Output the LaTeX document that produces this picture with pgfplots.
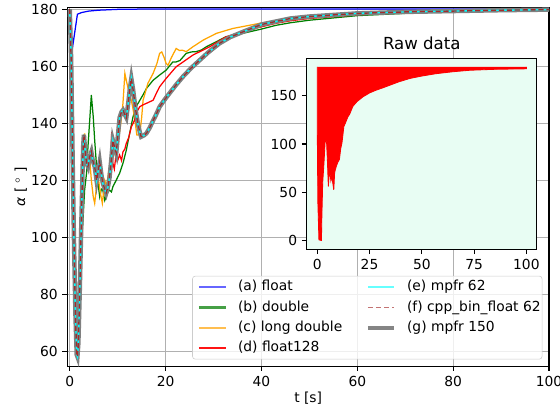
\documentclass[border=0pt]{standalone}
\usepackage{fontspec}
\setmainfont{DejaVu Sans}
\usepackage{pgfplots}
\usepackage{pgfplotstable}
\pgfplotsset{compat=1.18}

\definecolor{mplblue}{RGB}{0,0,255}
\definecolor{mplgreen}{RGB}{0,128,0}
\definecolor{mplorange}{RGB}{255,165,0}
\definecolor{mplred}{RGB}{255,0,0}
\definecolor{mplcyan}{RGB}{0,255,255}
\definecolor{mplbrown}{RGB}{165,42,42}
\definecolor{mplgray}{RGB}{128,128,128}
\definecolor{gridgray}{RGB}{176,176,176}
\definecolor{insetbg}{RGB}{232,253,243}
\definecolor{legframe}{RGB}{204,204,204}
% legend handle colours (lines blended with white)
\definecolor{lgblue}{RGB}{102,102,255}
\definecolor{lggreen}{RGB}{70,160,70}
\definecolor{lgorange}{RGB}{255,190,80}
\definecolor{lgred}{RGB}{255,20,20}
\definecolor{lgcyan}{RGB}{102,255,255}
\definecolor{lgbrown}{RGB}{195,115,115}
\definecolor{lggray}{RGB}{133,133,133}

\pgfplotstableread{
t a
0 180
0.3 162
0.6 128
0.9 97
1.2 72
1.45 59
1.6 58.3
1.8 63
2.1 82
2.4 104
2.65 122
2.8 132
2.95 136
3.2 131
3.5 126
3.8 124.8
4.1 128
4.5 130
4.8 127
5.2 124.8
5.6 120
5.9 123
6.25 126.5
6.6 122
6.9 119
7.3 117
7.6 115.6
8.0 118
8.3 121
8.7 128
9.0 134
9.3 132
9.7 129.6
10.0 135
10.4 142
10.8 144
11.1 144.6
11.5 143
11.8 142
12.2 147
12.5 151.6
12.85 155.7
13.2 152
13.5 148
13.9 143
14.2 140
14.6 137
14.9 135.3
15.5 135.8
16 136.5
16.7 138.5
17.4 141
18 143
18.75 145.8
19.8 148.3
20.8 150.5
22.2 153.5
23.6 156.3
25.3 159.3
27.1 162.1
29 165
31.25 168
33.5 170.2
36.1 172
40 174.6
46 176.7
50 177.4
60 178.5
70 179.0
80 179.3
90 179.6
100 179.8
}\mpfrdata

\newcommand{\lA}[1]{\hspace*{8.2bp}\makebox[91.9bp][l]{#1}}
\newcommand{\lB}[1]{\hspace*{7.6bp}\makebox[93.3bp][l]{#1}}

\begin{document}
\begin{tikzpicture}
\begin{axis}[
  name=main, at={(0,0)}, anchor=south west,
  scale only axis, width=346.8bp, height=258.3bp,
  xmin=-0.5, xmax=100, ymin=55, ymax=180.6,
  xtick={0,20,...,100}, ytick={60,80,...,180},
  tick align=outside, xtick pos=left, ytick pos=left,
  major tick length=3.5bp,
  tick style={black, line width=0.8bp},
  grid=major, grid style={gridgray, line width=0.8bp},
  axis line style={line width=0.8bp},
  /pgf/number format/assume math mode=true,
  ticklabel style={font=\fontsize{10}{12}\selectfont},
  xlabel={t [s]}, ylabel={\textit{α} [ $^{\circ}$ ]},
  label style={font=\fontsize{10}{12}\selectfont},
  xlabel style={at={(axis description cs:0.5,-0.089)}, anchor=center},
  ylabel style={at={(axis description cs:-0.0966,0.5)}, anchor=center},
  legend columns=2,
  legend cell align=left,
  legend image code/.code={\draw[#1] (0bp,0bp) -- (19.2bp,0bp);},
  legend style={at={(0.9856,0.0194)}, anchor=south east,
    draw=legframe, rounded corners=2bp, fill=white, fill opacity=0.8,
    draw opacity=1, text opacity=1, outer sep=0pt,
    font=\fontsize{10}{12}\selectfont,
    nodes={inner sep=0pt, text height=7.6bp, text depth=2.4bp},
    inner xsep=3.9bp, inner ysep=3bp, row sep=4.6bp, column sep=0pt},
]
% (a) float
\addplot[mplblue, line width=0.9bp, forget plot] coordinates {
(0,160) (1.6,178.2) (2.5,178.8) (4,179.3) (6,179.6) (10,179.9) (15,180) (100,180)};
% (b) double
\addplot[mplgreen, line width=0.9bp, forget plot] coordinates {
(0,180) (0.3,162) (0.6,128) (0.9,97) (1.2,72) (1.45,59) (1.6,58.3) (1.8,63) (2.0,78)
(2.2,93) (2.4,100) (2.6,102) (2.8,107.3) (3.1,116.6) (3.5,122.5) (3.8,131.8) (4.2,142)
(4.5,149.9) (4.9,142.3) (5.2,134.1) (5.6,124.8) (5.9,119) (6.25,114.3) (6.6,117) (6.9,116.6)
(7.3,113) (7.6,114.3) (8.0,116) (8.3,116.6) (8.7,116) (9.0,117.8) (9.7,120.1) (10.4,122.5)
(11.1,126) (11.8,130.6) (12.5,136.5) (13.2,142.3) (13.9,146) (14.6,148) (15.3,150) (16,152.2)
(17.4,155.1) (18.75,156.9) (20.1,158.6) (21.5,161.5) (22.2,161.5) (23,162) (24.3,164.5)
(25.4,165) (26.4,165.1) (27.5,165.7) (28.5,166.8) (30.6,168.6) (32.6,170.3) (36.1,171.5)
(40,173) (43,174.3) (46,175.2) (50,176.1) (60,177.7) (70,178.5) (80,179.1) (90,179.4) (100,179.6)};
% (c) long double
\addplot[mplorange, line width=0.9bp, forget plot] coordinates {
(0,180) (0.3,162) (0.6,128) (0.9,97) (1.2,72) (1.45,59) (1.6,58.3) (1.8,63) (2.1,82) (2.4,104)
(2.6,118) (2.8,130) (3.1,136.5) (3.4,130) (3.8,124.8) (4.2,127) (4.5,120.1) (4.9,114.3) (5.2,112)
(5.5,116.6) (5.9,121.3) (6.2,118) (6.4,115.5) (6.8,112) (7.3,120) (7.7,118) (8.1,123) (8.5,126)
(9.0,128) (9.6,131) (10.1,134.1) (10.5,138) (10.8,142.3) (11.1,147) (11.5,157.5) (11.8,155)
(12.1,152.8) (12.5,150) (12.85,148.1) (13.5,142.3) (14,135.9) (14.6,136) (15,142) (15.3,148.1)
(15.8,151) (16.3,154) (17.4,157.5) (18.2,161) (18.75,164.5) (19.2,165) (19.7,163) (20.1,161)
(20.5,160.3) (21.2,163) (22.2,166.2) (22.9,165.5) (23.5,165.6) (24.3,165.1) (25.7,166.8)
(27.8,169.1) (30.6,171.5) (34,173.2) (39.6,175) (46.5,176.8) (50,177.4) (60,178.5) (70,179)
(80,179.3) (90,179.6) (100,179.8)};
% (d) float128
\addplot[mplred, line width=0.9bp, forget plot] coordinates {
(0,180) (0.3,162) (0.6,128) (0.9,97) (1.2,72) (1.45,59) (1.6,58.3) (1.8,63) (2.1,82) (2.4,104)
(2.65,122) (2.8,132) (2.95,136) (3.2,131) (3.5,126) (3.8,124.8) (4.1,128) (4.5,130) (4.8,127)
(5.2,124.8) (5.6,120) (5.9,123) (6.25,126.5) (6.6,122) (6.9,119) (7.3,117) (7.6,115.6) (8.0,118)
(8.3,121) (8.6,130) (8.75,137) (9.0,126) (9.3,124) (9.7,129.6) (10.0,127) (10.4,128.9) (10.8,127)
(11.1,130) (11.5,131) (11.8,133) (12.3,135) (12.85,138.8) (13.5,141) (14,144) (14.6,145.8)
(15.3,146.5) (16,147) (17.4,148.1) (18.2,151) (18.75,152.8) (20.1,155.7) (22.2,159.8) (25.7,163.9)
(29.2,166.8) (32.6,170.3) (36.1,172) (40,173.8) (43,175) (46,175.9) (50,176.7) (60,178) (70,178.7)
(80,179.1) (90,179.5) (100,179.7)};
% (g) mpfr 150, (e) mpfr 62, (f) cpp_bin_float 62
\addplot[mplgray, line width=3.2bp, forget plot] table[x=t,y=a] {\mpfrdata};
\addplot[mplcyan, line width=1bp, forget plot] table[x=t,y=a] {\mpfrdata};
\addplot[mplbrown, line width=1bp, dash pattern=on 3.7bp off 2bp, forget plot] table[x=t,y=a] {\mpfrdata};

\addlegendimage{draw=lgblue, line width=1.1bp}
\addlegendentry{\lA{(a) float}}
\addlegendimage{draw=lgcyan, line width=1.1bp}
\addlegendentry{\lB{(e) mpfr 62}}
\addlegendimage{draw=lggreen, line width=1.5bp}
\addlegendentry{\lA{(b) double}}
\addlegendimage{draw=lgbrown, line width=1.2bp, dash pattern=on 3.7bp off 2.2bp}
\addlegendentry{\lB{(f) cpp\_bin\_float 62}}
\addlegendimage{draw=lgorange, line width=1.2bp}
\addlegendentry{\lA{(c) long double}}
\addlegendimage{draw=lggray, line width=3bp}
\addlegendentry{\lB{(g) mpfr 150}}
\addlegendimage{draw=lgred, line width=1bp}
\addlegendentry{\lA{(d) float128}}
\end{axis}

\begin{axis}[
  name=inset, at={(172.4bp,84.2bp)}, anchor=south west,
  scale only axis, width=165.6bp, height=137.5bp,
  xmin=-5, xmax=105, ymin=-9, ymax=189,
  xtick={0,25,...,100}, ytick={0,50,100,150},
  tick align=outside, xtick pos=left, ytick pos=left,
  major tick length=3.5bp,
  tick style={black, line width=0.8bp},
  axis line style={line width=0.8bp},
  axis background/.style={fill=insetbg},
  /pgf/number format/assume math mode=true,
  ticklabel style={font=\fontsize{10}{12}\selectfont},
  title={Raw data},
  title style={font=\fontsize{12}{14}\selectfont, at={(0.5,1)}, anchor=center, yshift=4.6bp},
]
\addplot[draw=mplred, fill=mplred, line width=0.6bp] coordinates {
(0,180) (0,118) (0.3,39) (0.8,0.7) (2,0) (2.2,25) (2.6,60) (3.2,80) (3.9,108) (4.5,100) (4.9,80)
(5.3,56) (5.7,68) (6.1,70) (6.5,62) (6.9,66) (7.4,60) (7.9,52.5) (8.3,70) (8.7,74) (9.3,78)
(9.8,81) (10.6,84) (11.2,95) (11.8,101) (12.3,110) (12.7,118) (13.5,122) (14.6,128) (15.5,131)
(17,139) (19,144) (21.9,149) (25,153) (28.3,156) (31,158) (34.7,161) (39,164.5) (44.3,168)
(50,170.5) (57,173) (65,175) (73,176.5) (85,177.5) (100,178) (100,180)};
\end{axis}
\pgfresetboundingbox
\path (-48.5bp,-32.4bp) rectangle (354.7bp,263.6bp);
\end{tikzpicture}
\end{document}
